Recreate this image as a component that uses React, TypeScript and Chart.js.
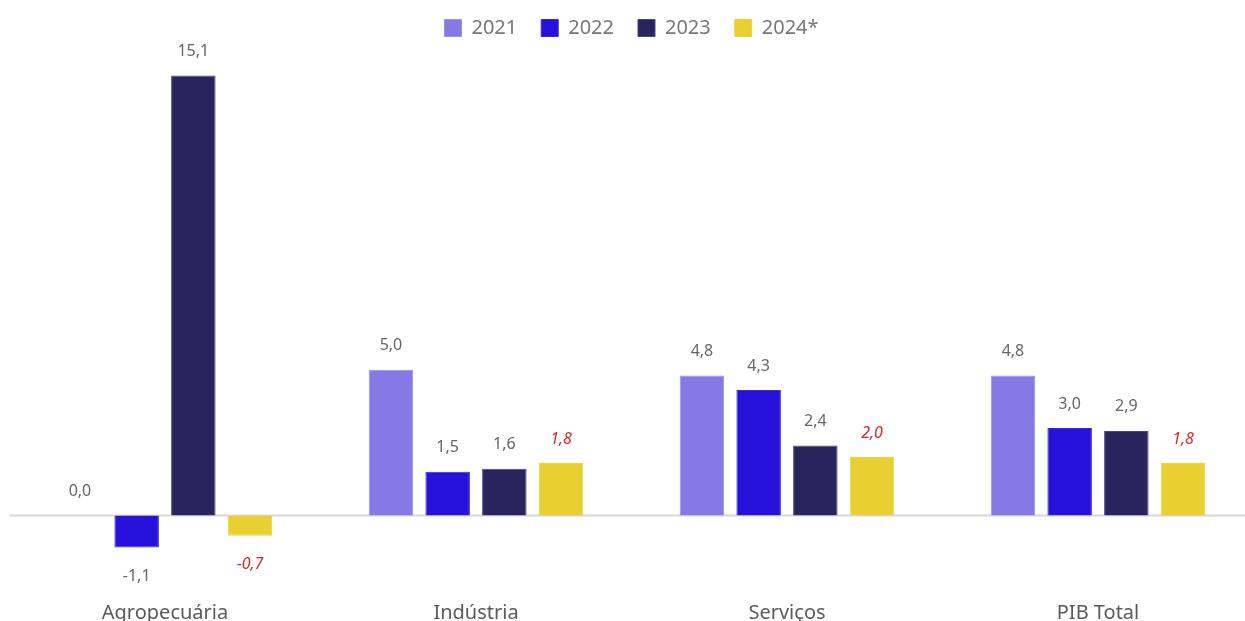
import React, { useEffect, useRef } from "react";
import { Chart, registerables } from "chart.js";

Chart.register(...registerables);

const categories = ["Agropecuária", "Indústria", "Serviços", "PIB Total"];
const seriesLabels = ["2021", "2022", "2023", "2024*"];
const values2021 = [0.0, 5.0, 4.8, 4.8];
const values2022 = [-1.1, 1.5, 4.3, 3.0];
const values2023 = [15.1, 1.6, 2.4, 2.9];
const values2024 = [-0.7, 1.8, 2.0, 1.8];
const seriesColors = ["#8579E6", "#2612DA", "#29245C", "#E9CF30"];
const seriesBorders = ["#9a90ee", "#3a28e0", "#4a4680", "#ecd444"];

const FONT = "'Noto Sans', sans-serif";

const fmt = (v: number) => v.toFixed(1).replace(".", ",");

const labelPlugin = {
  id: "valueLabels",
  beforeDatasetsDraw(chart: any) {
    const { ctx, chartArea, scales } = chart;
    const y0 = scales.y.getPixelForValue(0);
    ctx.save();
    ctx.strokeStyle = "#d8d8d8";
    ctx.lineWidth = 2;
    ctx.beginPath();
    ctx.moveTo(chartArea.left, y0);
    ctx.lineTo(chartArea.right + 10, y0);
    ctx.stroke();
    ctx.restore();
  },
  afterDatasetsDraw(chart: any) {
    const { ctx } = chart;
    ctx.save();
    ctx.textAlign = "center";
    ctx.textBaseline = "middle";
    chart.data.datasets.forEach((ds: any, di: number) => {
      const meta = chart.getDatasetMeta(di);
      const isProj = di === 3;
      ctx.font = (isProj ? "italic " : "") + "16px " + FONT;
      ctx.fillStyle = isProj ? "#d42a2a" : "#666666";
      meta.data.forEach((bar: any, i: number) => {
        const v = ds.data[i];
        const y = v < 0 ? bar.y + 29 : bar.y - 24;
        ctx.fillText(fmt(v), bar.x, y);
      });
    });
    ctx.restore();
  },
};

export default function App() {
  const ref = useRef<HTMLCanvasElement | null>(null);
  useEffect(() => {
    document.body.style.overflow = "hidden";
    const chart = new Chart(ref.current as HTMLCanvasElement, {
      type: "bar",
      data: {
        labels: categories,
        datasets: [values2021, values2022, values2023, values2024].map((d, i) => ({
          label: seriesLabels[i],
          data: d,
          backgroundColor: seriesColors[i],
          borderColor: seriesBorders[i],
          borderWidth: 1,
          categoryPercentage: 0.729,
          barPercentage: 0.785,
        })),
      },
      options: {
        responsive: true,
        maintainAspectRatio: false,
        animation: false,
        layout: { padding: { left: 1.5, right: 0.5, top: -14, bottom: 0 } },
        plugins: {
          legend: {
            position: "top",
            labels: {
              boxWidth: 17,
              boxHeight: 17,
              color: "#777777",
              font: { family: FONT, size: 20 },
              padding: 24,
            },
          },
          tooltip: { enabled: false },
        },
        scales: {
          x: {
            grid: { display: false },
            border: { display: false },
            ticks: { color: "#5a5a5a", font: { family: FONT, size: 20 }, padding: 3 },
          },
          y: {
            display: false,
            min: -2.56,
            max: 16.04,
          },
        },
      },
      plugins: [labelPlugin],
    });
    return () => chart.destroy();
  }, []);
  return (
    <div style={{ position: "fixed", inset: 0, overflow: "hidden" }}>
      <div style={{ position: "absolute", left: 8, top: 8, width: 1246, height: 620 }}>
        <canvas ref={ref} />
      </div>
    </div>
  );
}
